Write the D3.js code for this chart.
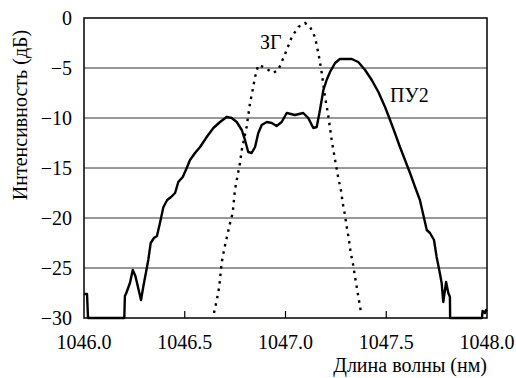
<!DOCTYPE html>
<html>
<head>
<meta charset="utf-8">
<script src="https://cdn.jsdelivr.net/npm/d3@7"></script>
<style>
  body { margin: 0; background: #fff; }
  svg { display: block; }
</style>
</head>
<body>
<svg width="516" height="378"></svg>
<script>
// ПУ2 spectrum (solid): wavelength, nm / intensity, dB
const pu2Wl = [1046.0, 1046.015, 1046.02, 1046.2, 1046.203, 1046.21, 1046.228, 1046.242, 1046.255, 1046.283,
  1046.294, 1046.319, 1046.331, 1046.347, 1046.362, 1046.377, 1046.394, 1046.413, 1046.432, 1046.452,
  1046.468, 1046.49, 1046.51, 1046.526, 1046.551, 1046.576, 1046.609, 1046.642, 1046.675, 1046.708,
  1046.733, 1046.758, 1046.783, 1046.799, 1046.815, 1046.832, 1046.849, 1046.865, 1046.882, 1046.907,
  1046.932, 1046.956, 1046.981, 1047.006, 1047.047, 1047.088, 1047.113, 1047.138, 1047.155, 1047.171,
  1047.188, 1047.204, 1047.221, 1047.246, 1047.27, 1047.329, 1047.361, 1047.395, 1047.428, 1047.461,
  1047.494, 1047.519, 1047.543, 1047.568, 1047.593, 1047.618, 1047.643, 1047.667, 1047.684, 1047.701,
  1047.717, 1047.737, 1047.75, 1047.763, 1047.775, 1047.783, 1047.797, 1047.808, 1047.816, 1047.817,
  1047.975, 1047.978, 1047.99, 1047.995, 1048.0];
const pu2Db = [-27.6, -27.6, -30, -30, -27.8, -27.5, -26.5, -25.2, -25.8, -28.2,
  -26.9, -24.2, -22.5, -22.0, -21.8, -20.5, -18.9, -18.2, -17.9, -17.5,
  -16.4, -15.9, -15.0, -14.2, -13.5, -12.9, -11.9, -11.0, -10.4, -9.9,
  -10.0, -10.4, -11.2, -12.2, -13.4, -13.5, -12.9, -11.5, -10.7, -10.4,
  -10.5, -10.8, -10.4, -9.5, -9.7, -9.5, -10.0, -11.0, -10.9, -9.2,
  -7.2, -6.2, -5.4, -4.5, -4.1, -4.1, -4.4, -5.2, -6.2, -7.4,
  -8.9, -10.2, -11.5, -12.9, -14.2, -15.5, -16.9, -18.2, -19.7, -21.2,
  -21.5, -22.2, -23.9, -25.2, -26.5, -28.4, -26.4, -27.5, -27.9, -30,
  -30, -29.3, -29.5, -29.2, -29.3];

// ЗГ spectrum (dotted)
const zgWl = [1046.645, 1046.659, 1046.671, 1046.683, 1046.695, 1046.708, 1046.725, 1046.738, 1046.749, 1046.761,
  1046.774, 1046.783, 1046.807, 1046.824, 1046.837, 1046.849, 1046.865, 1046.89, 1046.915, 1046.939,
  1046.964, 1046.981, 1047.006, 1047.031, 1047.064, 1047.097, 1047.122, 1047.146, 1047.163, 1047.18,
  1047.196, 1047.212, 1047.229, 1047.246, 1047.262, 1047.275, 1047.284, 1047.295, 1047.304, 1047.315,
  1047.323, 1047.336, 1047.345, 1047.356, 1047.366, 1047.376];
const zgDb = [-29.5, -28.2, -26.9, -24.5, -23.2, -22.0, -20.5, -19.5, -17.2, -15.9,
  -14.5, -13.2, -10.9, -8.5, -7.2, -5.9, -4.7, -4.9, -5.2, -5.5,
  -5.2, -4.4, -3.2, -1.9, -0.9, -0.5, -0.9, -1.9, -3.5, -5.5,
  -7.9, -9.7, -12.2, -14.2, -16.0, -17.2, -18.5, -19.7, -20.9, -22.2,
  -23.4, -24.7, -25.9, -27.2, -28.4, -29.6];

const xTicks = [1046.0, 1046.5, 1047.0, 1047.5, 1048.0];
const yTicks = [0, -5, -10, -15, -20, -25, -30];

const FONT = "'Liberation Serif', 'Times New Roman', Times, 'DejaVu Serif', serif";

const svg = d3.select("svg")
  .attr("font-family", FONT)
  .style("font-family", FONT);
const m = {left: 84, right: 487, top: 18, bottom: 318};

const x = d3.scaleLinear().domain([1046, 1048]).range([m.left, m.right]);
const y = d3.scaleLinear().domain([-30, 0]).range([m.bottom, m.top]);

// horizontal grid lines
svg.append("g")
  .selectAll("line")
  .data(yTicks.filter(d => d !== 0 && d !== -30))
  .join("line")
  .attr("x1", m.left).attr("x2", m.right)
  .attr("y1", d => y(d)).attr("y2", d => y(d))
  .attr("stroke", "#333").attr("stroke-width", 1);

// x tick marks pointing inward
svg.append("g")
  .selectAll("line")
  .data(xTicks.slice(1, -1))
  .join("line")
  .attr("x1", d => x(d)).attr("x2", d => x(d))
  .attr("y1", m.bottom).attr("y2", m.bottom - 7)
  .attr("stroke", "#000").attr("stroke-width", 1.2);

// frame
svg.append("rect")
  .attr("x", m.left).attr("y", m.top)
  .attr("width", m.right - m.left).attr("height", m.bottom - m.top)
  .attr("fill", "none").attr("stroke", "#000").attr("stroke-width", 1.5);

// tick labels
svg.append("g")
  .selectAll("text")
  .data(yTicks)
  .join("text")
  .attr("x", m.left - 12).attr("y", d => y(d) + 7)
  .attr("text-anchor", "end")
  .attr("font-size", 20)
  .text(d => d === 0 ? "0" : "\u2212" + Math.abs(d));

svg.append("g")
  .selectAll("text")
  .data(xTicks)
  .join("text")
  .attr("x", d => x(d)).attr("y", m.bottom + 31)
  .attr("text-anchor", "middle")
  .attr("font-size", 20)
  .text(d => d3.format(".1f")(d));

// axis titles
svg.append("text")
  .attr("x", m.right).attr("y", 372)
  .attr("text-anchor", "end")
  .attr("font-size", 20)
  .text("Длина волны (нм)");

svg.append("text")
  .attr("transform", `translate(27,${(m.top + 212) / 2}) rotate(-90)`)
  .attr("text-anchor", "middle")
  .attr("font-size", 20)
  .text("Интенсивность (дБ)");

// curves
const line = d3.line().x(d => x(d[0])).y(d => y(d[1]));

svg.append("path")
  .datum(d3.zip(zgWl, zgDb))
  .attr("d", line)
  .attr("fill", "none")
  .attr("stroke", "#000")
  .attr("stroke-width", 2.4)
  .attr("stroke-dasharray", "2.5,5");

svg.append("path")
  .datum(d3.zip(pu2Wl, pu2Db))
  .attr("d", line)
  .attr("fill", "none")
  .attr("stroke", "#000")
  .attr("stroke-width", 2.4)
  .attr("stroke-linejoin", "round");

// curve labels
svg.append("text")
  .attr("x", x(1046.873)).attr("y", y(-3.1))
  .attr("font-size", 20)
  .text("ЗГ");

svg.append("text")
  .attr("x", x(1047.519)).attr("y", y(-8.4))
  .attr("font-size", 20)
  .text("ПУ2");
</script>
</body>
</html>
